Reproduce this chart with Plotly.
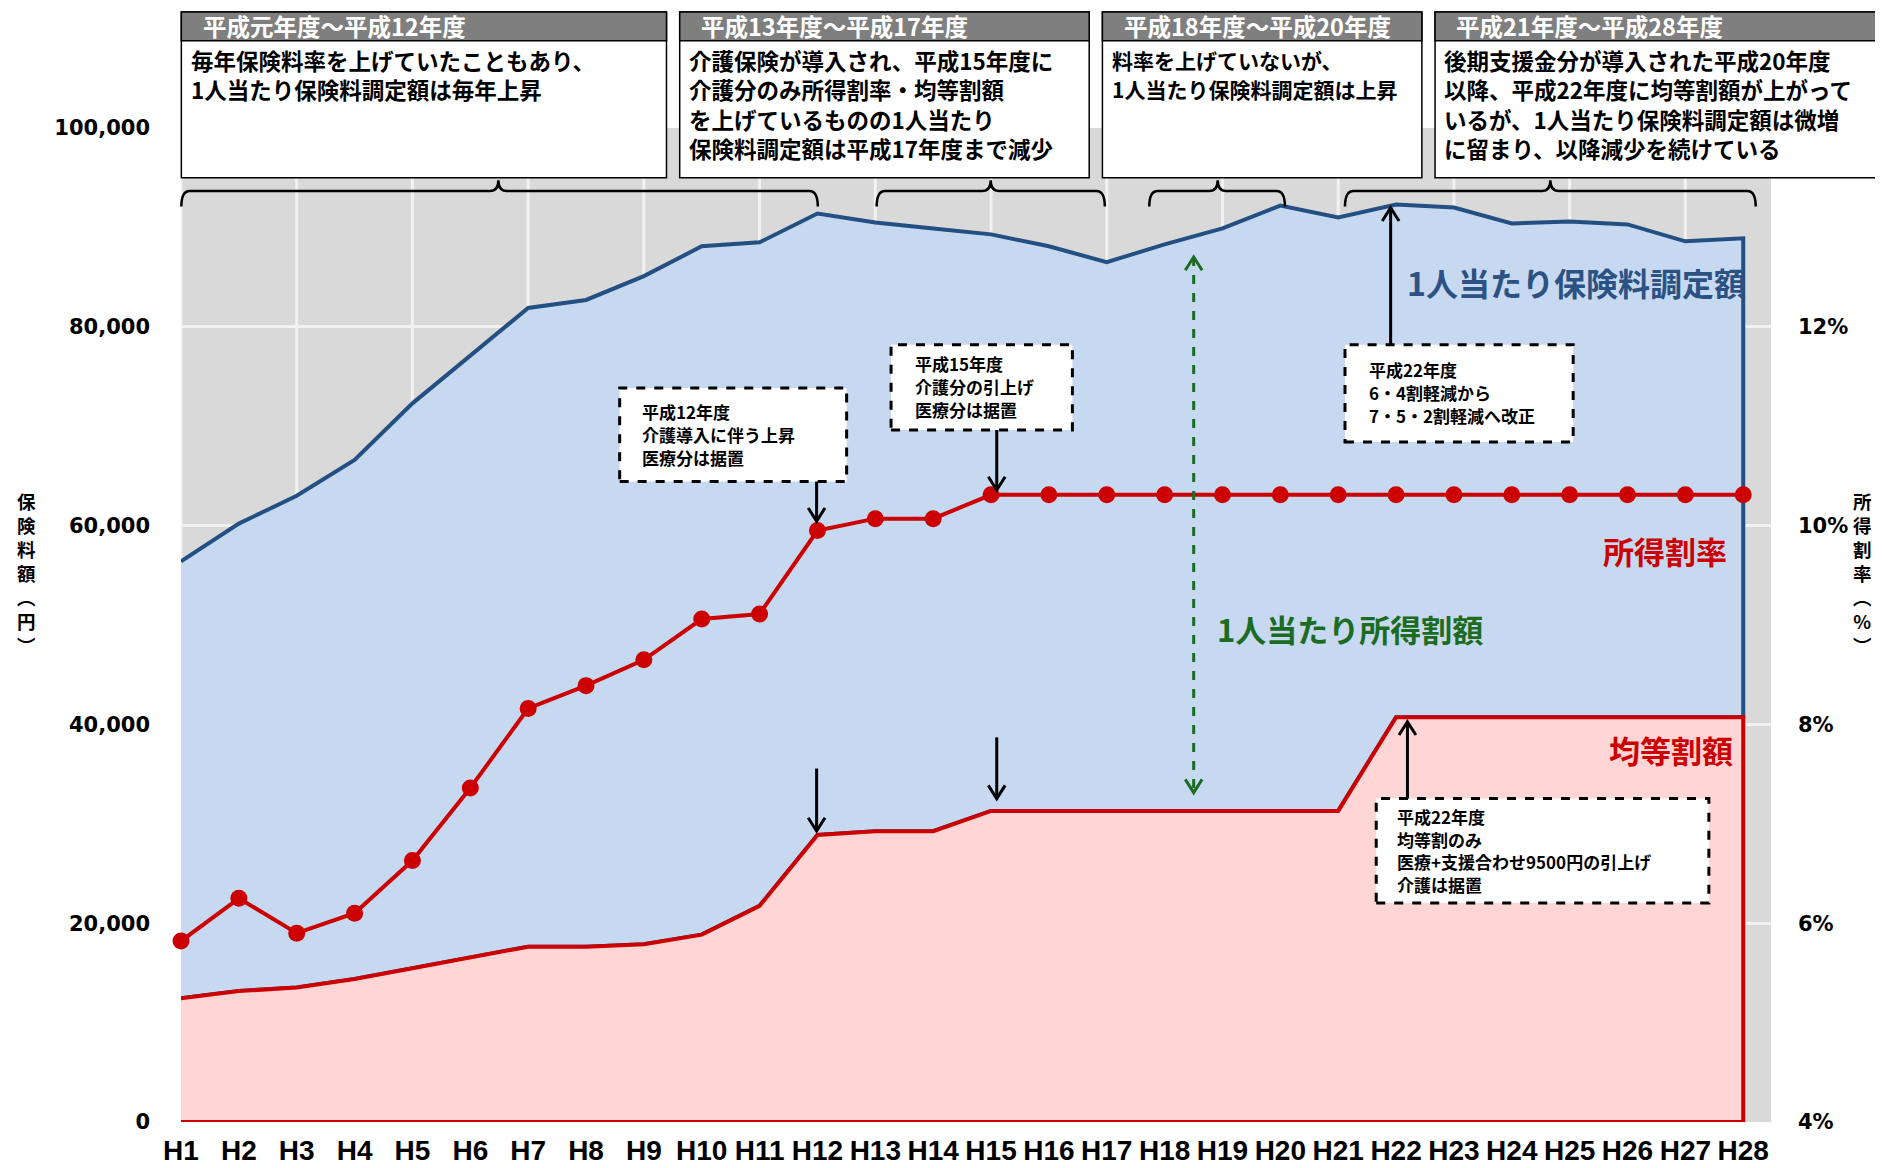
import plotly.graph_objects as go

# ---------------- data ----------------
categories = ["H1", "H2", "H3", "H4", "H5", "H6", "H7", "H8", "H9", "H10",
              "H11", "H12", "H13", "H14", "H15", "H16", "H17", "H18", "H19", "H20",
              "H21", "H22", "H23", "H24", "H25", "H26", "H27", "H28"]

# 1人当たり保険料調定額 (円)
premium_total = [56400, 60200, 63000, 66600, 72300, 77100, 81900, 82700, 85100, 88100,
                 88500, 91400, 90500, 89900, 89300, 88100, 86500, 88300, 89900, 92200,
                 91000, 92300, 92000, 90400, 90600, 90300, 88600, 88900]

# 均等割額 (円)
flat_amount = [12450, 13170, 13540, 14380, 15470, 16560, 17640, 17640, 17890, 18850,
               21750, 28880, 29250, 29250, 31300, 31300, 31300, 31300, 31300, 31300,
               31300, 40730, 40730, 40730, 40730, 40730, 40730, 40730]

# 所得割率 (%)
income_rate = [5.82, 6.25, 5.90, 6.10, 6.63, 7.36, 8.16, 8.39, 8.65, 9.06,
               9.11, 9.95, 10.07, 10.07, 10.31, 10.31, 10.31, 10.31, 10.31, 10.31,
               10.31, 10.31, 10.31, 10.31, 10.31, 10.31, 10.31, 10.31]

left_ticks = [0, 20000, 40000, 60000, 80000, 100000]
right_ticks = [4, 6, 8, 10, 12]
right_tick_text = ["4%", "6%", "8%", "10%", "12%"]

period_headers = ["平成元年度～平成12年度", "平成13年度～平成17年度",
                  "平成18年度～平成20年度", "平成21年度～平成28年度"]
period_texts = [
    ["毎年保険料率を上げていたこともあり、", "1人当たり保険料調定額は毎年上昇"],
    ["介護保険が導入され、平成15年度に", "介護分のみ所得割率・均等割額",
     "を上げているものの1人当たり", "保険料調定額は平成17年度まで減少"],
    ["料率を上げていないが、", "1人当たり保険料調定額は上昇"],
    ["後期支援金分が導入された平成20年度", "以降、平成22年度に均等割額が上がって",
     "いるが、1人当たり保険料調定額は微増", "に留まり、以降減少を続けている"],
]
note_texts = [
    ["平成12年度", "介護導入に伴う上昇", "医療分は据置"],
    ["平成15年度", "介護分の引上げ", "医療分は据置"],
    ["平成22年度", "6・4割軽減から", "7・5・2割軽減へ改正"],
    ["平成22年度", "均等割のみ", "医療+支援合わせ9500円の引上げ", "介護は据置"],
]

# ---------------- layout helpers ----------------
# the page has an 8px body margin before the figure
OFF = 8
WIDTH, HEIGHT = 1883, 1168
ML, MR, MT, MB = 173, 120, 120, 54
PW = WIDTH - ML - MR
PH = HEIGHT - MT - MB
S = 1883 / 1568  # reference measured on a 1568-wide view


def px(xs):
    return (xs * S - OFF - ML) / PW


def py(ys):
    return (HEIGHT - MB - (ys * S - OFF)) / PH


BLUE_LINE = "#234f82"
BLUE_FILL = "#c6d9f0"
RED = "#cc0000"
PINK = "#ffd5d5"
GREEN = "#1b6b22"
JP = "Noto Sans CJK JP"

idx = list(range(len(categories)))

fig = go.Figure()

# blue area (band between flat amount and total)
fig.add_trace(go.Scatter(
    x=idx + idx[::-1], y=premium_total + flat_amount[::-1],
    fill="toself", fillcolor=BLUE_FILL, mode="lines",
    line=dict(color=BLUE_LINE, width=4), cliponaxis=False,
    hoverinfo="skip", showlegend=False))

# pink area (flat amount)
fig.add_trace(go.Scatter(
    x=idx + [idx[-1], idx[0]], y=flat_amount + [0, 0],
    fill="toself", fillcolor=PINK, mode="lines",
    line=dict(color=RED, width=4), cliponaxis=False,
    hoverinfo="skip", showlegend=False))

# income rate line
fig.add_trace(go.Scatter(
    x=idx, y=income_rate, yaxis="y2", mode="lines+markers",
    line=dict(color=RED, width=4), marker=dict(color=RED, size=17),
    cliponaxis=False, showlegend=False))

shapes = []
annotations = []

# vertical gridlines every 2 categories
for i in idx[::2]:
    shapes.append(dict(type="line", xref="x", yref="paper", x0=i, x1=i, y0=0, y1=1,
                       line=dict(color="#f2f2f2", width=3), layer="below"))

# header boxes
boxes = [(151, 555), (566, 907), (918, 1184), (1195, 1580)]
body_sizes = [22.5, 22.5, 21, 22.5]
for (x0, x1), head, body, bs in zip(boxes, period_headers, period_texts, body_sizes):
    shapes.append(dict(type="rect", xref="paper", yref="paper",
                       x0=px(x0), x1=px(x1), y0=py(148), y1=py(10),
                       fillcolor="white", line=dict(color="black", width=1.5)))
    shapes.append(dict(type="rect", xref="paper", yref="paper",
                       x0=px(x0), x1=px(x1), y0=py(34), y1=py(10),
                       fillcolor="#7f7f7f", line=dict(color="black", width=1.5)))
    annotations.append(dict(xref="paper", yref="paper", x=px(x0 + 16), y=py(22),
                            xanchor="left", yanchor="middle", showarrow=False,
                            text=head, font=dict(family=JP, size=23.5, color="white", weight="bold")))
    for k, line in enumerate(body):
        annotations.append(dict(xref="paper", yref="paper", x=px(x0 + 6), y=py(50 + 24.4 * k),
                                xanchor="left", yanchor="middle", showarrow=False,
                                text=line, font=dict(family=JP, size=bs, color="black", weight="bold")))

# braces
braces = [(151, 415, 681), (730, 825, 920), (957, 1014, 1070), (1120, 1291, 1462)]
yt, ym, ye = py(150), py(159), py(172)
r = 7
for x0, xm, x1 in braces:
    a0, am, a1, rr = px(x0), px(xm), px(x1), r * S / PW
    path = (f"M {a0},{ye} Q {a0},{ym} {a0+rr},{ym} L {am-rr},{ym} Q {am},{ym} {am},{yt} "
            f"Q {am},{ym} {am+rr},{ym} L {a1-rr},{ym} Q {a1},{ym} {a1},{ye}")
    shapes.append(dict(type="path", xref="paper", yref="paper", path=path,
                       line=dict(color="black", width=2.5)))

# dashed note boxes: (x0, x1, y0, y1, first line y, text x)
note_boxes = [(516, 705, 323, 401, 343, 533), (742, 893, 287, 358, 303, 760),
              (1120, 1310, 287, 368, 308, 1138), (1146, 1423, 665, 752, 680, 1162)]
for (x0, x1, y0, y1, fy, tx), lines in zip(note_boxes, note_texts):
    shapes.append(dict(type="rect", xref="paper", yref="paper",
                       x0=px(x0), x1=px(x1), y0=py(y1), y1=py(y0),
                       fillcolor="white", line=dict(color="black", width=3, dash="dash")))
    for k, line in enumerate(lines):
        annotations.append(dict(xref="paper", yref="paper", x=px(tx), y=py(fy + 18.8 * k),
                                xanchor="left", yanchor="middle", showarrow=False,
                                text=line, font=dict(family=JP, size=17, color="black", weight="bold")))


def arrow(x, y_from, y_to, color="black", dash=None, head_from=False):
    shapes.append(dict(type="line", xref="paper", yref="paper",
                       x0=px(x), x1=px(x), y0=py(y_from), y1=py(y_to),
                       line=dict(color=color, width=3, dash=dash)))
    tips = [(y_to, 1 if y_to > y_from else -1)]
    if head_from:
        tips.append((y_from, 1 if y_from > y_to else -1))
    for tip, d in tips:
        hy = tip - d * 11
        path = (f"M {px(x-7)},{py(hy)} L {px(x)},{py(tip)} L {px(x+7)},{py(hy)}")
        shapes.append(dict(type="path", xref="paper", yref="paper", path=path,
                           line=dict(color=color, width=3)))


arrow(680, 401, 434)
arrow(830, 358, 408)
arrow(680, 640, 692)
arrow(830, 614, 665)
arrow(1158, 287, 173)
arrow(1172, 665, 601)
arrow(994, 214, 660, color=GREEN, dash="dash", head_from=True)

# series labels
annotations += [
    dict(xref="paper", yref="paper", x=px(1170), y=py(235), xanchor="left", yanchor="middle",
         showarrow=False, text="1人当たり保険料調定額",
         font=dict(family=JP, size=32, color="#2b5283", weight="bold")),
    dict(xref="paper", yref="paper", x=px(1333), y=py(458), xanchor="left", yanchor="middle",
         showarrow=False, text="所得割率", font=dict(family=JP, size=31, color=RED, weight="bold")),
    dict(xref="paper", yref="paper", x=px(1338), y=py(624), xanchor="left", yanchor="middle",
         showarrow=False, text="均等割額", font=dict(family=JP, size=31, color=RED, weight="bold")),
    dict(xref="paper", yref="paper", x=px(1012), y=py(523), xanchor="left", yanchor="middle",
         showarrow=False, text="1人当たり所得割額", font=dict(family=JP, size=31, color=GREEN, weight="bold")),
]

# vertical axis titles (stacked characters)
left_title = "保<br>険<br>料<br>額<br>︵<br>円<br>︶"
right_title = "所<br>得<br>割<br>率<br>︵<br>%<br>︶"
annotations.append(dict(xref="paper", yref="paper", x=px(22), y=py(477),
                        xanchor="center", yanchor="middle", showarrow=False, text=left_title,
                        font=dict(family=JP, size=18.5, color="black", weight="bold")))
annotations.append(dict(xref="paper", yref="paper", x=px(1551), y=py(477),
                        xanchor="center", yanchor="middle", showarrow=False, text=right_title,
                        font=dict(family=JP, size=18.5, color="black", weight="bold")))

tick_font = dict(family="DejaVu Sans", size=21, color="black", weight="bold")

fig.update_layout(
    width=WIDTH, height=HEIGHT,
    margin=dict(l=ML, r=MR, t=MT, b=MB, pad=0, autoexpand=False),
    paper_bgcolor="white", plot_bgcolor="#d9d9d9",
    showlegend=False,
    xaxis=dict(range=[0, 27.48], tickmode="array", tickvals=idx, ticktext=categories,
               showgrid=False, zeroline=False, showline=False, ticks="",
               ticklabelstandoff=9, automargin=False,
               tickfont=dict(family="Liberation Sans Narrow, Arial Narrow, Liberation Sans",
                             size=28, color="black", weight="bold")),
    yaxis=dict(range=[0, 100000], tickmode="array", tickvals=left_ticks, tickformat=",d",
               showgrid=True, gridcolor="#f2f2f2", gridwidth=3, zeroline=False,
               showline=False, ticks="", ticklabelstandoff=30, automargin=False,
               tickfont=tick_font),
    yaxis2=dict(range=[4, 14], overlaying="y", side="right", tickmode="array",
                tickvals=right_ticks, ticktext=right_tick_text, showgrid=False, zeroline=False,
                showline=False, ticks="", ticklabelstandoff=26, automargin=False,
                tickfont=tick_font),
    shapes=shapes, annotations=annotations,
)

fig.write_html("out.html")
